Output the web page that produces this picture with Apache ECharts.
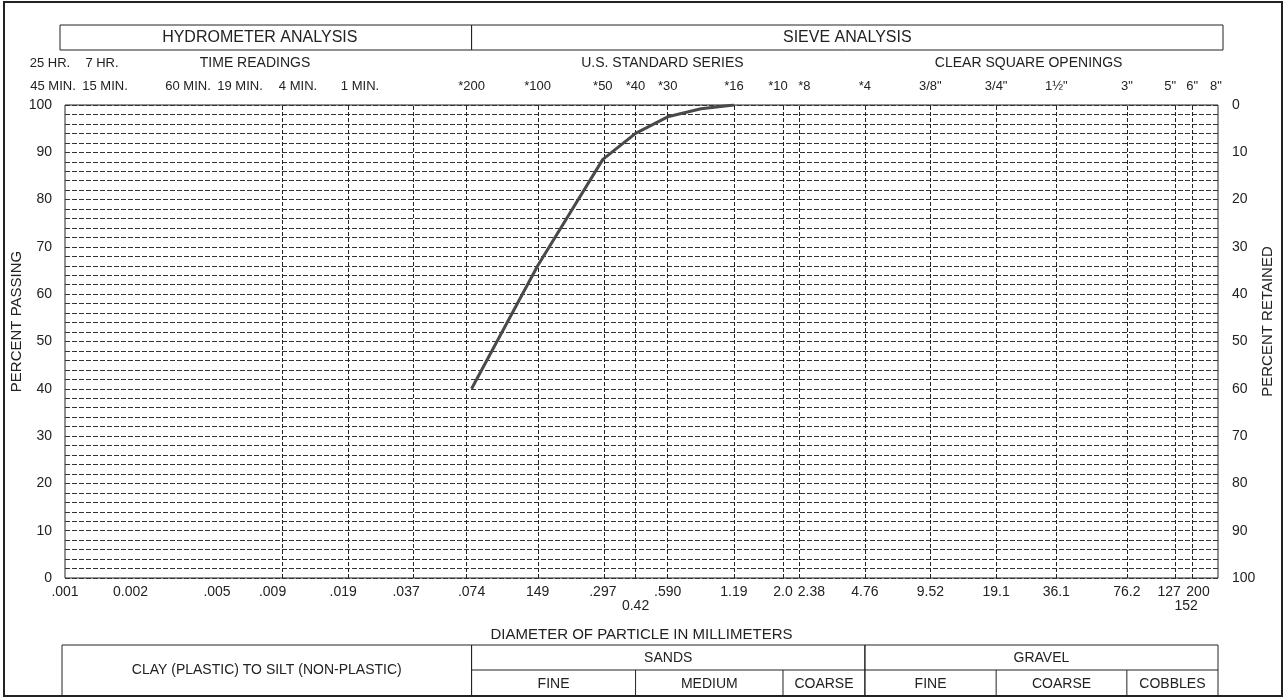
<!DOCTYPE html>
<html><head><meta charset="utf-8">
<script src="https://cdn.jsdelivr.net/npm/echarts@6/dist/echarts.min.js"></script>
<style>html,body{margin:0;padding:0;background:#fff}#c{width:1285px;height:700px}</style>
</head><body><div id="c"></div>
<script>
// ---- data ----
const particleSizes = [0.074, 0.149, 0.297, 0.42, 0.59, 0.84, 1.19];
const percentPassing = [40, 66, 88.5, 94, 97.5, 99.2, 100];

const gridSizes = [0.002, 0.005, 0.009, 0.019, 0.037, 0.074, 0.149, 0.297, 0.42, 0.59, 1.19, 2.0, 2.38, 4.76, 9.52, 19.1, 36.1, 76.2, 127, 152];

const bottomTickValues = [0.001, 0.002, 0.005, 0.009, 0.019, 0.037, 0.074, 0.149, 0.297, 0.42, 0.59, 1.19, 2.0, 2.38, 4.76, 9.52, 19.1, 36.1, 76.2, 127, 152, 200];
const bottomTickLabels = ['.001', '0.002', '.005', '.009', '.019', '.037', '.074', '149', '.297', '0.42', '.590', '1.19', '2.0', '2.38', '4.76', '9.52', '19.1', '36.1', '76.2', '127', '152', '200'];

const sieveValues = [0.074, 0.149, 0.297, 0.42, 0.59, 1.19, 2.0, 2.38, 4.76, 9.52, 19.1, 36.1, 76.2, 127, 152, 200];
const sieveLabels = ['*200', '*100', '*50', '*40', '*30', '*16', '*10', '*8', '*4', '3/8"', '3/4"', '1½"', '3"', '5"', '6"', '8"'];

const timeLabels = ['45 MIN.', '15 MIN.', '60 MIN.', '19 MIN.', '4 MIN.', '1 MIN.'];
const hourLabels = ['25 HR.', '7 HR.'];

const sandBounds = [0.074, 0.42, 2.0, 4.76];
const sandNames = ['FINE', 'MEDIUM', 'COARSE'];
const gravelBounds = [4.76, 19.1, 76.2, 200];
const gravelNames = ['FINE', 'COARSE', 'COBBLES'];

// ---- layout (pixels / styling only) ----
const FONT = '"Liberation Sans", Arial, sans-serif';
const INK = '#222';
const timeLabelX = [53, 105, 188, 240, 298, 360];
const hourLabelX = [50, 102];
const bottomLabelShift = { '0.42': [0, 14], '152': [-6, 14], '200': [-20, 0], '2.38': [12, 0], '127': [-6, 0] };
const sieveLabelShift = { '5"': [-5, 0], '8"': [-2, 0], '*10': [-5, 0], '*8': [5, 0] };

const chart = echarts.init(document.getElementById('c'), null, { renderer: 'canvas' });

const gridLineStyle = { color: '#333', width: 1, type: [5, 2] };

chart.setOption({
  animation: false,
  backgroundColor: '#fff',
  grid: { left: 65, right: 67, top: 105, bottom: 122, show: true, borderColor: INK, borderWidth: 1, backgroundColor: 'transparent' },
  xAxis: {
    type: 'log', logBase: 10, min: 0.001, max: 200,
    axisLabel: { show: false }, axisTick: { show: false }, axisLine: { show: false },
    splitLine: { show: false }, minorSplitLine: { show: false },
    name: 'DIAMETER OF PARTICLE IN MILLIMETERS', nameLocation: 'middle', nameGap: 49,
    nameTextStyle: { fontFamily: FONT, fontSize: 15, color: INK }
  },
  yAxis: [
    {
      type: 'value', min: 0, max: 100, interval: 10, position: 'left',
      axisLine: { show: false }, axisTick: { show: false },
      axisLabel: { fontFamily: FONT, fontSize: 14, color: INK, margin: 13 },
      splitLine: { show: true, lineStyle: gridLineStyle },
      minorTick: { show: false, splitNumber: 5 },
      minorSplitLine: { show: true, lineStyle: gridLineStyle }
    },
    {
      type: 'value', min: 0, max: 100, interval: 10, position: 'right', inverse: true,
      axisLine: { show: false }, axisTick: { show: false },
      axisLabel: { fontFamily: FONT, fontSize: 14, color: INK, margin: 14 },
      splitLine: { show: false }
    }
  ],
  series: [{
    type: 'line',
    data: particleSizes.map((d, i) => [d, percentPassing[i]]),
    symbol: 'none',
    lineStyle: { color: '#4a4a4a', width: 3 },
    z: 5,
    markLine: {
      silent: true, symbol: ['none', 'none'], label: { show: false },
      lineStyle: { color: INK, width: 1, type: [4, 2] },
      data: gridSizes.map(v => ({ xAxis: v }))
    }
  }]
});

// ---- annotations positioned through the chart's own axes ----
const px = v => chart.convertToPixel({ xAxisIndex: 0 }, v);
const plotBottom = chart.convertToPixel({ yAxisIndex: 0 }, 0);
const plotTop = chart.convertToPixel({ yAxisIndex: 0 }, 100);
const xLeft = px(0.001), xRight = px(200);

const g = [];
const rect = (x, y, w, h, lw) => g.push({ type: 'rect', silent: true, shape: { x, y, width: w, height: h }, style: { fill: null, stroke: INK, lineWidth: lw || 1 } });
const line = (x1, y1, x2, y2, lw) => g.push({ type: 'line', silent: true, shape: { x1, y1, x2, y2 }, style: { stroke: INK, lineWidth: lw || 1 } });
const text = (t, x, y, size, align, rot) => g.push({ type: 'text', silent: true, x, y, rotation: rot || 0, style: { text: t, font: `${size}px ${FONT}`, fill: INK, textAlign: align || 'center', textVerticalAlign: 'middle' } });

// outer frame
rect(4, 2, 1278, 694, 2);

// top header boxes
const xSplit = px(0.074);
rect(xLeft - 5, 25, xSplit - xLeft + 5, 25);
rect(xSplit, 25, xRight + 5 - xSplit, 25);
text('HYDROMETER ANALYSIS', (xLeft - 5 + xSplit) / 2 - 6, 38, 16);
text('SIEVE ANALYSIS', (xSplit + xRight + 5) / 2, 38, 16);

// row 1
text('TIME READINGS', 255, 63, 14);
text('U.S. STANDARD SERIES', (px(0.297) + px(1.19)) / 2 - 6, 63, 14);
text('CLEAR SQUARE OPENINGS', (px(9.52) + px(76.2)) / 2, 63, 14);
hourLabels.forEach((t, i) => text(t, hourLabelX[i], 63, 13));

// row 2
timeLabels.forEach((t, i) => text(t, timeLabelX[i], 86, 13));
sieveLabels.forEach((t, i) => {
  const s = sieveLabelShift[t] || [0, 0];
  text(t, px(sieveValues[i]) + s[0], 86 + s[1], 13);
});

// axis titles
const midY = (plotTop + plotBottom) / 2 - 20;
text('PERCENT PASSING', 17, midY, 15, 'center', Math.PI / 2);
text('PERCENT RETAINED', 1268, midY, 15, 'center', Math.PI / 2);

// bottom tick labels
bottomTickValues.forEach((v, i) => {
  const t = bottomTickLabels[i];
  const s = bottomLabelShift[t] || [0, 0];
  text(t, px(v) + s[0], plotBottom + 14 + s[1], 14);
});

// bottom classification boxes
const bTop = 645, bMid = 670, bBot = 696;
rect(xLeft - 3, bTop, xSplit - xLeft + 3, bBot - bTop);
text('CLAY (PLASTIC) TO SILT (NON-PLASTIC)', (xLeft - 3 + xSplit) / 2, (bTop + bBot) / 2, 14);

function classBox(bounds, names, title) {
  const x0 = px(bounds[0]), x1 = px(bounds[bounds.length - 1]);
  rect(x0, bTop, x1 - x0, bBot - bTop);
  line(x0, bMid, x1, bMid);
  text(title, (x0 + x1) / 2, (bTop + bMid) / 2 + 1, 14);
  for (let i = 0; i < names.length; i++) {
    const a = px(bounds[i]), b = px(bounds[i + 1]);
    if (i > 0) line(a, bMid, a, bBot);
    text(names[i], (a + b) / 2, (bMid + bBot) / 2 + 1, 14);
  }
}
classBox(sandBounds, sandNames, 'SANDS');
classBox(gravelBounds, gravelNames, 'GRAVEL');

chart.setOption({ graphic: g });
</script>
</body></html>
